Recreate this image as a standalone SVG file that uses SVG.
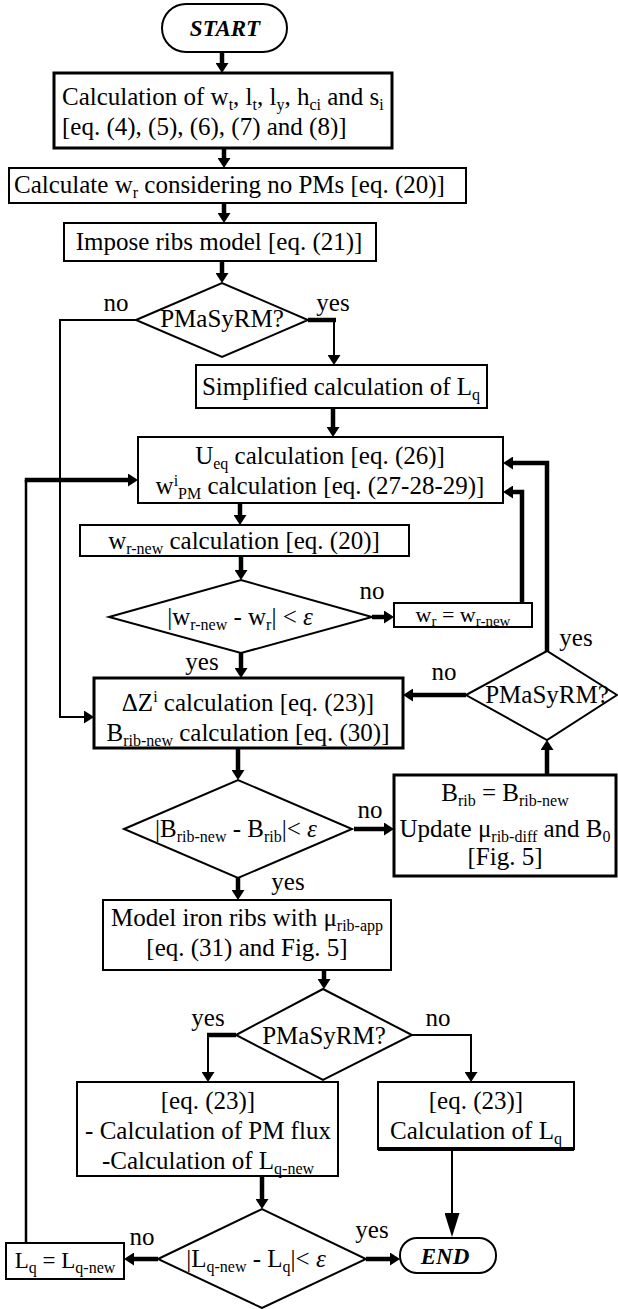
<svg xmlns="http://www.w3.org/2000/svg" width="618" height="1309" viewBox="0 0 618 1309">
<style>
.t{font-family:"Liberation Serif","Times New Roman",serif;font-size:25px;fill:#000}
.m{text-anchor:middle}
.s{font-size:16px}
.bi{font-weight:bold;font-style:italic;font-size:23px}
.e{font-style:italic}
.box{fill:#fff;stroke:#000;stroke-width:2}
.bk{stroke-width:3}
.c{fill:none;stroke:#000;stroke-width:2}
.w{stroke-width:4.5}
</style>
<defs>
<marker id="a" markerUnits="userSpaceOnUse" viewBox="0 -6.5 10 13" markerWidth="10" markerHeight="13" refX="1" refY="0" orient="auto"><path d="M0,-6.5 L10,0 L0,6.5 z" fill="#000"/></marker>
<marker id="big" markerUnits="userSpaceOnUse" viewBox="0 -7.5 24 15" markerWidth="24" markerHeight="15" refX="1" refY="0" orient="auto"><path d="M0,-7.5 L24,0 L0,7.5 z" fill="#000"/></marker>
</defs>
<rect width="618" height="1309" fill="#fff"/>
<g id="connectors">
<path class="c w" d="M222,52 V64" marker-end="url(#a)"/>
<path class="c w" d="M224,148 V159" marker-end="url(#a)"/>
<path class="c w" d="M224,203 V214" marker-end="url(#a)"/>
<path class="c w" d="M222,261 V274" marker-end="url(#a)"/>
<path class="c" d="M136,320 H60 V717 H85" marker-end="url(#a)"/>
<path class="c w" d="M308,320 H336"/>
<path class="c" d="M334,320 V356" marker-end="url(#a)"/>
<path class="c w" d="M333,408 V428" marker-end="url(#a)"/>
<path class="c" style="stroke-width:2.5" d="M26,1243 V480"/>
<path class="c w" d="M24.75,480 H129" marker-end="url(#a)"/>
<path class="c w" d="M547,651 V463 H512" marker-end="url(#a)"/>
<path class="c w" d="M522,603 V492 H512" marker-end="url(#a)"/>
<path class="c w" d="M240,503 V516" marker-end="url(#a)"/>
<path class="c w" d="M241,556 V571" marker-end="url(#a)"/>
<path class="c w" d="M372,617 H385" marker-end="url(#a)"/>
<path class="c w" d="M241,653 V669" marker-end="url(#a)"/>
<path class="c w" d="M466,695 H412" marker-end="url(#a)"/>
<path class="c w" d="M547,775 V749" marker-end="url(#a)"/>
<path class="c w" d="M238,748 V771" marker-end="url(#a)"/>
<path class="c w" d="M354,829 H385" marker-end="url(#a)"/>
<path class="c w" d="M238,878 V891" marker-end="url(#a)"/>
<path class="c w" d="M324,970 V980" marker-end="url(#a)"/>
<path class="c w" d="M236,1035 H207"/>
<path class="c" d="M208,1035 V1073" marker-end="url(#a)"/>
<path class="c" d="M412,1035 H471 V1073" marker-end="url(#a)"/>
<path class="c w" d="M262,1176 V1200" marker-end="url(#a)"/>
<path class="c w" d="M158,1259 H133" marker-end="url(#a)"/>
<path class="c w" d="M366,1259 H391" marker-end="url(#a)"/>
<path class="c" d="M452,1149 V1214" marker-end="url(#big)"/>
</g>
<g id="start">
<rect class="box" x="162" y="4" width="125" height="48" rx="24"/>
<text class="t m bi" x="225" y="36">START</text>
</g>
<g id="calc-geometry">
<rect class="box bk" x="54" y="73" width="338" height="75"/>
<text class="t" x="62" y="105">Calculation of w<tspan class="s" dy="5">t</tspan><tspan dy="-5">, l</tspan><tspan class="s" dy="5">t</tspan><tspan dy="-5">, l</tspan><tspan class="s" dy="5">y</tspan><tspan dy="-5">, h</tspan><tspan class="s" dy="5">ci</tspan><tspan dy="-5"> and s</tspan><tspan class="s" dy="5">i</tspan></text>
<text class="t" x="62" y="135">[eq. (4), (5), (6), (7) and (8)]</text>
</g>
<g id="calc-wr">
<rect class="box" x="9" y="168" width="457" height="35"/>
<text class="t" x="14" y="193">Calculate w<tspan class="s" dy="5">r</tspan><tspan dy="-5"> considering no PMs [eq. (20)]</tspan></text>
</g>
<g id="ribs-model">
<rect class="box" x="64" y="223" width="312" height="38"/>
<text class="t m" x="219" y="250">Impose ribs model [eq. (21)]</text>
</g>
<g id="dec1">
<polygon class="box" points="136,320 222,283 308,320 222,357"/>
<text class="t m" x="222" y="327">PMaSyRM?</text>
<text class="t m" x="116" y="311">no</text>
<text class="t m" x="333" y="311">yes</text>
</g>
<g id="simplified-lq">
<rect class="box" x="196" y="365" width="291" height="43"/>
<text class="t m" x="341" y="395">Simplified calculation of L<tspan class="s" dy="5">q</tspan></text>
</g>
<g id="ueq-wpm">
<rect class="box" x="138" y="437" width="365" height="66"/>
<text class="t m" x="320" y="464">U<tspan class="s" dy="5">eq</tspan><tspan dy="-5"> calculation [eq. (26)]</tspan></text>
<text class="t m" x="320" y="494">w<tspan class="s" dy="-8">i</tspan><tspan class="s" dy="13">PM</tspan><tspan dy="-5"> calculation [eq. (27-28-29)]</tspan></text>
</g>
<g id="wr-new">
<rect class="box" x="80" y="525" width="329" height="31"/>
<text class="t m" x="244" y="549">w<tspan class="s" dy="5">r-new</tspan><tspan dy="-5"> calculation [eq. (20)]</tspan></text>
</g>
<g id="dec2">
<polygon class="box" points="109,617 241,580 372,617 241,653"/>
<text class="t m" x="240" y="625">|w<tspan class="s" dy="5">r-new</tspan><tspan dy="-5"> - w</tspan><tspan class="s" dy="5">r</tspan><tspan dy="-5">| &lt; </tspan><tspan class="e">ε</tspan></text>
<text class="t m" x="372" y="599">no</text>
<text class="t m" x="202" y="670">yes</text>
</g>
<g id="wr-update">
<rect class="box" x="394" y="603" width="138" height="24"/>
<text class="t m" x="463" y="622" style="font-size:22px">w<tspan class="s" dy="4" style="font-size:15px">r</tspan><tspan dy="-4"> = w</tspan><tspan class="s" dy="4" style="font-size:15px">r-new</tspan></text>
</g>
<g id="dec3">
<polygon class="box" points="466,695 547,651 617,695 547,740"/>
<text class="t m" x="547" y="703">PMaSyRM?</text>
<text class="t m" x="576" y="646">yes</text>
<text class="t m" x="444" y="680">no</text>
</g>
<g id="dz-brib">
<rect class="box bk" x="94" y="678" width="309" height="70"/>
<text class="t m" x="248" y="711">ΔZ<tspan class="s" dy="-9">i</tspan><tspan dy="9"> calculation [eq. (23)]</tspan></text>
<text class="t m" x="248" y="741">B<tspan class="s" dy="5">rib-new</tspan><tspan dy="-5"> calculation [eq. (30)]</tspan></text>
</g>
<g id="dec4">
<polygon class="box" points="124,829 238,780 352,829 238,878"/>
<text class="t m" x="236" y="837">|B<tspan class="s" dy="5">rib-new</tspan><tspan dy="-5"> - B</tspan><tspan class="s" dy="5">rib</tspan><tspan dy="-5">|&lt; </tspan><tspan class="e">ε</tspan></text>
<text class="t m" x="370" y="818">no</text>
<text class="t m" x="288" y="890">yes</text>
</g>
<g id="brib-update">
<rect class="box bk" x="394" y="775" width="222" height="101"/>
<text class="t m" x="505" y="801">B<tspan class="s" dy="5">rib</tspan><tspan dy="-5"> = B</tspan><tspan class="s" dy="5">rib-new</tspan></text>
<text class="t m" x="505" y="837">Update μ<tspan class="s" dy="5">rib-diff</tspan><tspan dy="-5"> and B</tspan><tspan class="s" dy="5">0</tspan></text>
<text class="t m" x="505" y="865">[Fig. 5]</text>
</g>
<g id="iron-ribs">
<rect class="box" x="103" y="900" width="288" height="70"/>
<text class="t m" x="247" y="926">Model iron ribs with μ<tspan class="s" dy="5">rib-app</tspan></text>
<text class="t m" x="247" y="956">[eq. (31) and Fig. 5]</text>
</g>
<g id="dec5">
<polygon class="box" points="236,1035 323,989 412,1035 323,1080"/>
<text class="t m" x="324" y="1044">PMaSyRM?</text>
<text class="t m" x="208" y="1026">yes</text>
<text class="t m" x="438" y="1026">no</text>
</g>
<g id="pm-flux">
<rect class="box" x="77" y="1082" width="261" height="94"/>
<text class="t m" x="208" y="1109">[eq. (23)]</text>
<text class="t m" x="208" y="1139">- Calculation of PM flux</text>
<text class="t m" x="208" y="1169">-Calculation of L<tspan class="s" dy="5">q-new</tspan></text>
</g>
<g id="lq-calc">
<rect class="box" x="378" y="1082" width="196" height="67"/>
<path class="c" style="stroke-width:4" d="M378,1149 H574"/>
<text class="t m" x="476" y="1109">[eq. (23)]</text>
<text class="t m" x="476" y="1139">Calculation of L<tspan class="s" dy="5">q</tspan></text>
</g>
<g id="dec6">
<polygon class="box" points="158,1259 262,1209 366,1259 262,1308"/>
<text class="t m" x="256" y="1267">|L<tspan class="s" dy="5">q-new</tspan><tspan dy="-5"> - L</tspan><tspan class="s" dy="5">q</tspan><tspan dy="-5">|&lt; </tspan><tspan class="e">ε</tspan></text>
<text class="t m" x="142" y="1245">no</text>
<text class="t m" x="372" y="1238">yes</text>
</g>
<g id="lq-update">
<rect class="box" x="6" y="1243" width="118" height="36"/>
<text class="t m" x="65" y="1268" style="font-size:23px">L<tspan class="s" dy="5">q</tspan><tspan dy="-5"> = L</tspan><tspan class="s" dy="5">q-new</tspan></text>
</g>
<g id="end">
<rect class="box" x="400" y="1238" width="96" height="35" rx="17"/>
<text class="t m bi" x="445" y="1264">END</text>
</g>
</svg>
